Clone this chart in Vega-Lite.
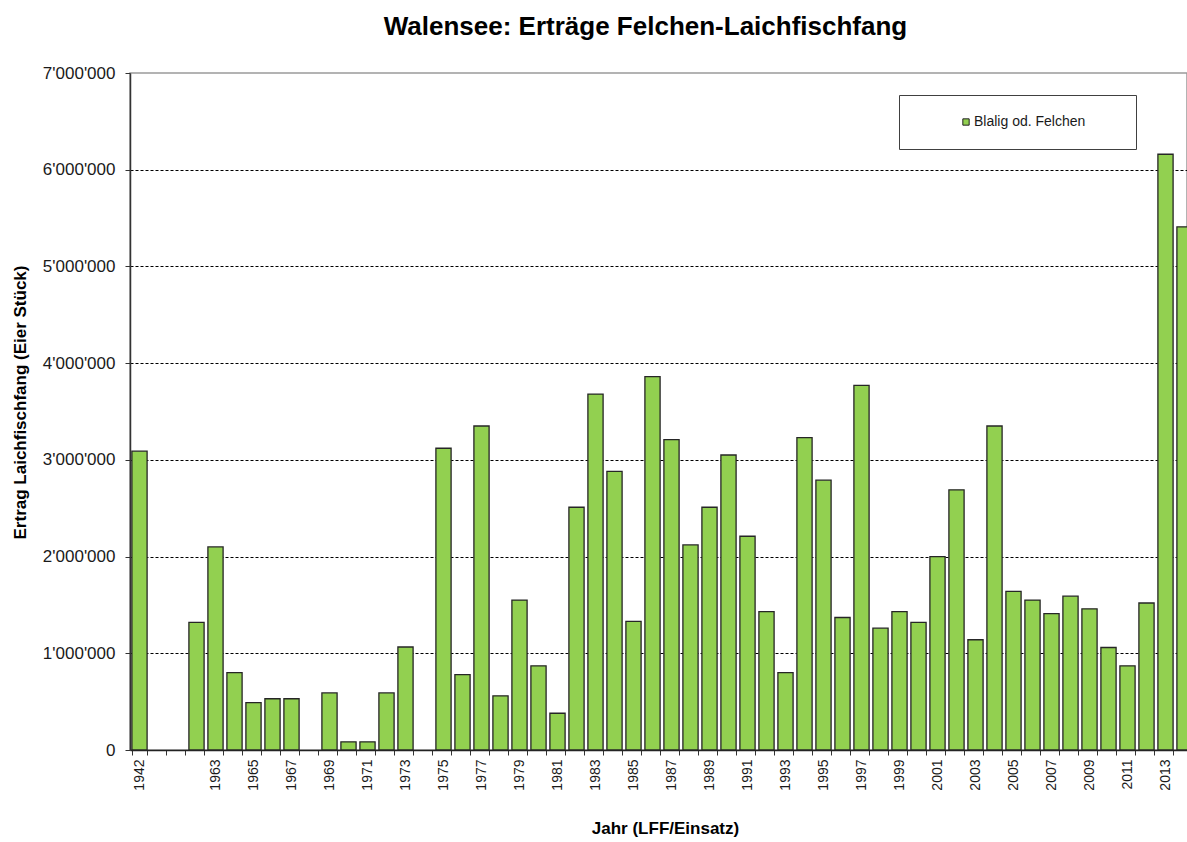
{
  "$schema": "https://vega.github.io/schema/vega-lite/v6.json",
  "autosize": {"type": "none"},
  "width": 1057,
  "height": 677,
  "padding": {"left": 130, "top": 73, "right": 0, "bottom": 92},
  "background": "white",
  "config": {
    "font": "Liberation Sans",
    "locale": {"number": {"decimal": ".", "thousands": "'", "grouping": [3], "currency": ["", ""]}},
    "view": {"stroke": "#9a9a9a", "strokeWidth": 1.5}
  },
  "title": {
    "text": "Walensee: Erträge Felchen-Laichfischfang",
    "fontSize": 26,
    "fontWeight": "bold",
    "color": "#000000",
    "anchor": "middle",
    "dx": -13,
    "offset": 24
  },
  "data": {
    "values": [
      {"Jahr": "1942", "Ertrag": 3090000, "Serie": "Blalig od. Felchen"},
      {"Jahr": "1962", "Ertrag": 1320000, "Serie": "Blalig od. Felchen"},
      {"Jahr": "1963", "Ertrag": 2100000, "Serie": "Blalig od. Felchen"},
      {"Jahr": "1964", "Ertrag": 800000, "Serie": "Blalig od. Felchen"},
      {"Jahr": "1965", "Ertrag": 490000, "Serie": "Blalig od. Felchen"},
      {"Jahr": "1966", "Ertrag": 530000, "Serie": "Blalig od. Felchen"},
      {"Jahr": "1967", "Ertrag": 530000, "Serie": "Blalig od. Felchen"},
      {"Jahr": "1969", "Ertrag": 590000, "Serie": "Blalig od. Felchen"},
      {"Jahr": "1970", "Ertrag": 85000, "Serie": "Blalig od. Felchen"},
      {"Jahr": "1971", "Ertrag": 85000, "Serie": "Blalig od. Felchen"},
      {"Jahr": "1972", "Ertrag": 590000, "Serie": "Blalig od. Felchen"},
      {"Jahr": "1973", "Ertrag": 1065000, "Serie": "Blalig od. Felchen"},
      {"Jahr": "1975", "Ertrag": 3120000, "Serie": "Blalig od. Felchen"},
      {"Jahr": "1976", "Ertrag": 780000, "Serie": "Blalig od. Felchen"},
      {"Jahr": "1977", "Ertrag": 3350000, "Serie": "Blalig od. Felchen"},
      {"Jahr": "1978", "Ertrag": 560000, "Serie": "Blalig od. Felchen"},
      {"Jahr": "1979", "Ertrag": 1550000, "Serie": "Blalig od. Felchen"},
      {"Jahr": "1980", "Ertrag": 870000, "Serie": "Blalig od. Felchen"},
      {"Jahr": "1981", "Ertrag": 380000, "Serie": "Blalig od. Felchen"},
      {"Jahr": "1982", "Ertrag": 2510000, "Serie": "Blalig od. Felchen"},
      {"Jahr": "1983", "Ertrag": 3680000, "Serie": "Blalig od. Felchen"},
      {"Jahr": "1984", "Ertrag": 2880000, "Serie": "Blalig od. Felchen"},
      {"Jahr": "1985", "Ertrag": 1330000, "Serie": "Blalig od. Felchen"},
      {"Jahr": "1986", "Ertrag": 3860000, "Serie": "Blalig od. Felchen"},
      {"Jahr": "1987", "Ertrag": 3210000, "Serie": "Blalig od. Felchen"},
      {"Jahr": "1988", "Ertrag": 2120000, "Serie": "Blalig od. Felchen"},
      {"Jahr": "1989", "Ertrag": 2510000, "Serie": "Blalig od. Felchen"},
      {"Jahr": "1990", "Ertrag": 3050000, "Serie": "Blalig od. Felchen"},
      {"Jahr": "1991", "Ertrag": 2210000, "Serie": "Blalig od. Felchen"},
      {"Jahr": "1992", "Ertrag": 1430000, "Serie": "Blalig od. Felchen"},
      {"Jahr": "1993", "Ertrag": 800000, "Serie": "Blalig od. Felchen"},
      {"Jahr": "1994", "Ertrag": 3230000, "Serie": "Blalig od. Felchen"},
      {"Jahr": "1995", "Ertrag": 2790000, "Serie": "Blalig od. Felchen"},
      {"Jahr": "1996", "Ertrag": 1370000, "Serie": "Blalig od. Felchen"},
      {"Jahr": "1997", "Ertrag": 3770000, "Serie": "Blalig od. Felchen"},
      {"Jahr": "1998", "Ertrag": 1260000, "Serie": "Blalig od. Felchen"},
      {"Jahr": "1999", "Ertrag": 1430000, "Serie": "Blalig od. Felchen"},
      {"Jahr": "2000", "Ertrag": 1320000, "Serie": "Blalig od. Felchen"},
      {"Jahr": "2001", "Ertrag": 2000000, "Serie": "Blalig od. Felchen"},
      {"Jahr": "2002", "Ertrag": 2690000, "Serie": "Blalig od. Felchen"},
      {"Jahr": "2003", "Ertrag": 1140000, "Serie": "Blalig od. Felchen"},
      {"Jahr": "2004", "Ertrag": 3350000, "Serie": "Blalig od. Felchen"},
      {"Jahr": "2005", "Ertrag": 1640000, "Serie": "Blalig od. Felchen"},
      {"Jahr": "2006", "Ertrag": 1550000, "Serie": "Blalig od. Felchen"},
      {"Jahr": "2007", "Ertrag": 1410000, "Serie": "Blalig od. Felchen"},
      {"Jahr": "2008", "Ertrag": 1590000, "Serie": "Blalig od. Felchen"},
      {"Jahr": "2009", "Ertrag": 1460000, "Serie": "Blalig od. Felchen"},
      {"Jahr": "2010", "Ertrag": 1060000, "Serie": "Blalig od. Felchen"},
      {"Jahr": "2011", "Ertrag": 870000, "Serie": "Blalig od. Felchen"},
      {"Jahr": "2012", "Ertrag": 1520000, "Serie": "Blalig od. Felchen"},
      {"Jahr": "2013", "Ertrag": 6160000, "Serie": "Blalig od. Felchen"},
      {"Jahr": "2014", "Ertrag": 5410000, "Serie": "Blalig od. Felchen"}
    ]
  },
  "mark": {"type": "bar", "stroke": "#262626", "strokeWidth": 1.3},
  "encoding": {
    "x": {
      "field": "Jahr",
      "type": "nominal",
      "sort": null,
      "scale": {
        "domain": ["1942", " ", "  ", "1962", "1963", "1964", "1965", "1966", "1967", "1968", "1969", "1970", "1971", "1972", "1973", "1974", "1975", "1976", "1977", "1978", "1979", "1980", "1981", "1982", "1983", "1984", "1985", "1986", "1987", "1988", "1989", "1990", "1991", "1992", "1993", "1994", "1995", "1996", "1997", "1998", "1999", "2000", "2001", "2002", "2003", "2004", "2005", "2006", "2007", "2008", "2009", "2010", "2011", "2012", "2013", "2014"],
        "range": [0, 1064],
        "paddingInner": 0.2,
        "paddingOuter": 0.1
      },
      "axis": {
        "title": "Jahr (LFF/Einsatz)",
        "titleFontSize": 17,
        "titleFontWeight": "bold",
        "titleColor": "#000000",
        "titleX": 535,
        "titleY": 78,
        "titleAlign": "center",
        "titleBaseline": "middle",
        "labelAngle": 270,
        "labelFontSize": 14,
        "labelColor": "#1a1a1a",
        "labelPadding": 4,
        "labelOverlap": false,
        "labelExpr": "datum.value == '1942' || toNumber(datum.value) % 2 == 1 ? datum.value : ''",
        "tickBand": "extent",
        "tickSize": 5,
        "tickColor": "#333333",
        "domainColor": "#222222",
        "domainWidth": 1.5,
        "grid": false
      }
    },
    "y": {
      "field": "Ertrag",
      "type": "quantitative",
      "scale": {"domain": [0, 7000000], "nice": false},
      "axis": {
        "title": "Ertrag Laichfischfang  (Eier Stück)",
        "titleFontSize": 17,
        "titleFontWeight": "bold",
        "titleColor": "#000000",
        "titleAngle": 270,
        "titleX": -110,
        "titleY": 329,
        "titleAlign": "center",
        "titleBaseline": "middle",
        "values": [0, 1000000, 2000000, 3000000, 4000000, 5000000, 6000000, 7000000],
        "format": ",d",
        "labelFontSize": 17,
        "labelColor": "#1a1a1a",
        "labelPadding": 10,
        "tickSize": 5,
        "tickColor": "#333333",
        "domainColor": "#333333",
        "domainWidth": 1.5,
        "grid": true,
        "gridColor": "#000000",
        "gridDash": [3, 2],
        "gridWidth": 1,
        "gridOpacity": {"condition": {"test": "datum.value >= 7000000 || datum.value <= 0", "value": 0}, "value": 1}
      }
    },
    "color": {
      "field": "Serie",
      "type": "nominal",
      "scale": {"range": ["#92D050"]},
      "legend": {
        "title": null,
        "orient": "none",
        "legendX": 769,
        "legendY": 22,
        "direction": "vertical",
        "strokeColor": "#404040",
        "fillColor": "#ffffff",
        "padding": 20,
        "symbolType": "square",
        "symbolSize": 40,
        "symbolStrokeColor": "#222222",
        "symbolStrokeWidth": 1,
        "symbolOffset": 40,
        "labelFontSize": 14,
        "labelOffset": 1,
        "labelColor": "#1a1a1a",
        "labelExpr": "datum.label + '\u2800\u2800\u2800'"
      }
    }
  }
}
